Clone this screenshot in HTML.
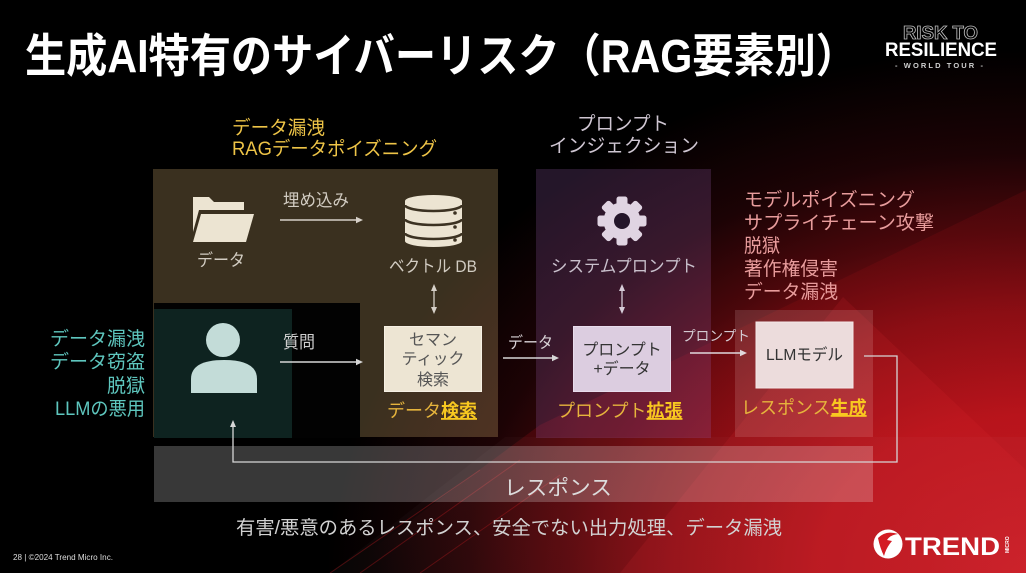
<!DOCTYPE html>
<html><head><meta charset="utf-8">
<style>
html,body{margin:0;padding:0;background:#000;}
body{width:1026px;height:573px;overflow:hidden;}
svg{display:block;}
text{font-family:"Liberation Sans","Noto Sans CJK JP",sans-serif;}
</style></head>
<body>
<svg width="1026" height="573" viewBox="0 0 1026 573" xmlns="http://www.w3.org/2000/svg">
<defs>
<radialGradient id="rg" cx="1026" cy="573" r="700" gradientUnits="userSpaceOnUse" gradientTransform="translate(1026 573) scale(1 0.75) translate(-1026 -573)">
<stop offset="0" stop-color="#d8202a"/>
<stop offset="0.3" stop-color="#c4161e"/>
<stop offset="0.5" stop-color="#8a0e14"/>
<stop offset="0.65" stop-color="#4a070b"/>
<stop offset="0.8" stop-color="#1c0305"/>
<stop offset="1" stop-color="#000"/>
</radialGradient>
<linearGradient id="wedge" x1="380" y1="573" x2="1026" y2="300" gradientUnits="userSpaceOnUse">
<stop offset="0" stop-color="rgba(140,12,18,0.0)"/>
<stop offset="0.35" stop-color="rgba(140,12,18,0.35)"/>
<stop offset="1" stop-color="rgba(140,12,18,0.2)"/>
</linearGradient>
</defs>
<!-- background -->
<rect width="1026" height="573" fill="#000"/>
<rect width="1026" height="573" fill="url(#rg)"/>
<polygon points="340,573 540,425 1026,190 1026,573" fill="url(#wedge)"/>
<polygon points="330,573 505,437 1026,437 1026,573" fill="rgba(255,255,255,0.025)"/>
<g stroke="rgba(200,30,35,0.35)" stroke-width="1">
<line x1="330" y1="573" x2="480" y2="470"/>
<line x1="360" y1="573" x2="520" y2="460"/>
<line x1="420" y1="573" x2="560" y2="475"/>
</g>
<polygon points="843,297 620,573 1026,573 1026,470" fill="rgba(235,50,55,0.12)"/>

<!-- title -->
<text x="25" y="72" font-size="46" font-weight="bold" fill="#fff" textLength="832" lengthAdjust="spacingAndGlyphs">生成AI特有のサイバーリスク（RAG要素別）</text>

<!-- logo -->
<text x="903" y="39" font-size="18" font-weight="bold" fill="none" stroke="#bdbdbd" stroke-width="0.8" textLength="75" lengthAdjust="spacingAndGlyphs">RISK TO</text>
<text x="885" y="56" font-size="19" font-weight="bold" fill="#fff" textLength="112" lengthAdjust="spacingAndGlyphs">RESILIENCE</text>
<text x="895" y="68" font-size="7.5" font-weight="bold" fill="#cfcfcf" textLength="88" lengthAdjust="spacing">- WORLD TOUR -</text>

<!-- yellow heading -->
<text x="232" y="134" font-size="19" fill="#eec447" textLength="93" lengthAdjust="spacingAndGlyphs">データ漏洩</text>
<text x="232" y="155" font-size="19" fill="#eec447" textLength="205" lengthAdjust="spacingAndGlyphs">RAGデータポイズニング</text>

<!-- injection heading -->
<text x="577" y="130" font-size="19" fill="#cfc6d2" textLength="92" lengthAdjust="spacingAndGlyphs">プロンプト</text>
<text x="549" y="152" font-size="19" fill="#cfc6d2" textLength="150" lengthAdjust="spacingAndGlyphs">インジェクション</text>

<!-- pink list -->
<g font-size="19" fill="#e89c9c">
<text x="744" y="206" textLength="171" lengthAdjust="spacingAndGlyphs">モデルポイズニング</text>
<text x="744" y="229" textLength="190" lengthAdjust="spacingAndGlyphs">サプライチェーン攻撃</text>
<text x="744" y="252" textLength="36" lengthAdjust="spacingAndGlyphs">脱獄</text>
<text x="744" y="275" textLength="94" lengthAdjust="spacingAndGlyphs">著作権侵害</text>
<text x="744" y="298" textLength="94" lengthAdjust="spacingAndGlyphs">データ漏洩</text>
</g>

<!-- teal list -->
<g font-size="19" fill="#5ec6be">
<text x="50" y="345" textLength="95" lengthAdjust="spacingAndGlyphs">データ漏洩</text>
<text x="50" y="368" textLength="95" lengthAdjust="spacingAndGlyphs">データ窃盗</text>
<text x="107" y="392" textLength="38" lengthAdjust="spacingAndGlyphs">脱獄</text>
<text x="55" y="415" textLength="90" lengthAdjust="spacingAndGlyphs">LLMの悪用</text>
</g>

<!-- olive region -->
<rect x="153" y="169" width="345" height="268" fill="rgba(230,190,125,0.25)"/>
<rect x="154" y="303" width="206" height="135" fill="#020202"/>
<rect x="154" y="309" width="138" height="129" fill="#0e2320"/>

<!-- purple region -->
<rect x="536" y="169" width="175" height="269" fill="rgba(150,90,170,0.24)"/>
<!-- pink region -->
<rect x="735" y="310" width="138" height="127" fill="rgba(255,220,220,0.15)"/>
<!-- response bar -->
<rect x="154" y="446" width="719" height="56" fill="rgba(255,255,255,0.22)"/>

<!-- folder icon -->
<polygon points="193,197 209,197 214,202 244,202 244,210 199,210 193,232" fill="#ece4d2"/>
<polygon points="201,214 254,214 246,242 193,242" fill="#ece4d2"/>
<text x="197" y="266" font-size="17" fill="#d2ccc2" textLength="48" lengthAdjust="spacingAndGlyphs">データ</text>

<!-- embed arrow -->
<text x="283" y="206" font-size="17" fill="#d2ccc2" textLength="66" lengthAdjust="spacingAndGlyphs">埋め込み</text>
<line x1="280" y1="220" x2="357" y2="220" stroke="#d6d0c8" stroke-width="1.4"/>
<polygon points="363,220 356,216.8 356,223.2" fill="#d6d0c8"/>

<!-- DB icon -->
<path d="M405,201 A28.5,6 0 0 1 462,201 V241 A28.5,6 0 0 1 405,241 Z" fill="#ece4d2"/>
<g fill="none" stroke="#3c3222" stroke-width="2.6">
<path d="M405,205 A28.5,6 0 0 0 462,205"/>
<path d="M405,219 A28.5,6 0 0 0 462,219"/>
<path d="M405,233 A28.5,6 0 0 0 462,233"/>
</g>
<g fill="#3c3222"><circle cx="455" cy="213" r="1.8"/><circle cx="455" cy="227" r="1.8"/><circle cx="455" cy="240" r="1.8"/></g>
<text x="389" y="272" font-size="17" fill="#d2ccc2" textLength="88" lengthAdjust="spacingAndGlyphs">ベクトル DB</text>

<!-- DB double arrow -->
<line x1="434" y1="289" x2="434" y2="309" stroke="#d6d0c8" stroke-width="1.3"/>
<polygon points="434,284 431,291 437,291" fill="#d6d0c8"/>
<polygon points="434,314 431,307 437,307" fill="#d6d0c8"/>

<!-- person -->
<circle cx="223" cy="340" r="17" fill="#c3dcd8"/>
<path d="M191,393 V379 Q191,360 224,360 Q257,360 257,379 V393 Z" fill="#c3dcd8"/>

<!-- question arrow -->
<text x="283" y="348" font-size="17" fill="#cfcfcf" textLength="32" lengthAdjust="spacingAndGlyphs">質問</text>
<line x1="280" y1="362" x2="357" y2="362" stroke="#d6d6d6" stroke-width="1.4"/>
<polygon points="363,362 356,358.8 356,365.2" fill="#d6d6d6"/>

<!-- semantic search box -->
<rect x="384.5" y="326.5" width="97" height="65" fill="#ede5d3" stroke="#f6f0e4" stroke-width="1"/>
<g font-size="16" fill="#555" text-anchor="middle">
<text x="433" y="345">セマン</text>
<text x="433" y="364">ティック</text>
<text x="433" y="385">検索</text>
</g>
<text x="387" y="417" font-size="18" fill="#e6b43c">データ<tspan font-weight="bold" fill="#f8c820" style="text-decoration:underline">検索</tspan></text>

<!-- data arrow -->
<text x="508" y="348" font-size="16" fill="#d8d2d6" textLength="45" lengthAdjust="spacingAndGlyphs">データ</text>
<line x1="503" y1="358" x2="553" y2="358" stroke="#d6d6d6" stroke-width="1.4"/>
<polygon points="559,358 552,354.8 552,361.2" fill="#d6d6d6"/>

<!-- gear -->
<g transform="translate(622,221)" fill="#e0d4e2">
<circle r="18.5"/>
<rect x="-5.5" y="-24.5" width="11" height="11" rx="2.5"/>
<rect x="-5.5" y="-24.5" width="11" height="11" rx="2.5" transform="rotate(45)"/>
<rect x="-5.5" y="-24.5" width="11" height="11" rx="2.5" transform="rotate(90)"/>
<rect x="-5.5" y="-24.5" width="11" height="11" rx="2.5" transform="rotate(135)"/>
<rect x="-5.5" y="-24.5" width="11" height="11" rx="2.5" transform="rotate(180)"/>
<rect x="-5.5" y="-24.5" width="11" height="11" rx="2.5" transform="rotate(225)"/>
<rect x="-5.5" y="-24.5" width="11" height="11" rx="2.5" transform="rotate(270)"/>
<rect x="-5.5" y="-24.5" width="11" height="11" rx="2.5" transform="rotate(315)"/>
<circle r="8" fill="#24162a"/>
</g>
<text x="551" y="272" font-size="17" fill="#c9c0cc" textLength="146" lengthAdjust="spacingAndGlyphs">システムプロンプト</text>

<!-- purple double arrow -->
<line x1="622" y1="289" x2="622" y2="309" stroke="#d6ccd8" stroke-width="1.3"/>
<polygon points="622,284 619,291 625,291" fill="#d6ccd8"/>
<polygon points="622,314 619,307 625,307" fill="#d6ccd8"/>

<!-- prompt+data box -->
<rect x="573.5" y="326.5" width="97" height="65" fill="#dccde0" stroke="#e8dcec" stroke-width="1"/>
<g font-size="16" fill="#333" text-anchor="middle">
<text x="622" y="355">プロンプト</text>
<text x="622" y="374">+データ</text>
</g>
<text x="557" y="417" font-size="18" fill="#e6b43c">プロンプト<tspan font-weight="bold" fill="#f8c820" style="text-decoration:underline">拡張</tspan></text>

<!-- prompt arrow -->
<text x="682" y="341" font-size="14" fill="#d4cad2" textLength="68" lengthAdjust="spacingAndGlyphs">プロンプト</text>
<line x1="690" y1="353" x2="741" y2="353" stroke="#e0d8dc" stroke-width="1.4"/>
<polygon points="747,353 740,349.8 740,356.2" fill="#e0d8dc"/>

<!-- LLM box -->
<rect x="756" y="322" width="97" height="66" fill="#ecdcdc" stroke="#f4e8e8" stroke-width="1"/>
<text x="766" y="360" font-size="16" fill="#333" textLength="77" lengthAdjust="spacingAndGlyphs">LLMモデル</text>
<text x="741" y="414" font-size="18" fill="#e6b43c">レスポンス<tspan font-weight="bold" fill="#f8c820" style="text-decoration:underline">生成</tspan></text>

<!-- response connector -->
<polyline points="864,356 897,356 897,462 233,462 233,426" fill="none" stroke="#d6d6d6" stroke-width="1.3"/>
<polygon points="233,420 230,427 236,427" fill="#d6d6d6"/>

<!-- response bar text -->
<text x="558" y="495" font-size="21" fill="#dcdcdc" text-anchor="middle" textLength="108" lengthAdjust="spacingAndGlyphs">レスポンス</text>

<!-- bottom text -->
<text x="236" y="534" font-size="19" fill="#d2d2d2" textLength="546" lengthAdjust="spacingAndGlyphs">有害/悪意のあるレスポンス、安全でない出力処理、データ漏洩</text>

<!-- footer -->
<text x="13" y="560" font-size="8" fill="#dddddd" textLength="100" lengthAdjust="spacingAndGlyphs">28 | ©2024 Trend Micro Inc.</text>

<!-- TREND logo -->
<circle cx="888" cy="544" r="14.5" fill="#fff"/>
<path d="M878,538 Q886,530 898,534 Q890,535 887,540 L892,541 Q886,548 884,556 Q880,548 878,538 Z" fill="#d41c24"/>
<text x="905" y="555" font-size="25" font-weight="bold" fill="#fff" textLength="95" lengthAdjust="spacingAndGlyphs">TREND</text>
<text x="0" y="0" font-size="5" font-weight="bold" fill="#fff" transform="translate(1009,553) rotate(-90)">MICRO</text>
</svg>
</body></html>
